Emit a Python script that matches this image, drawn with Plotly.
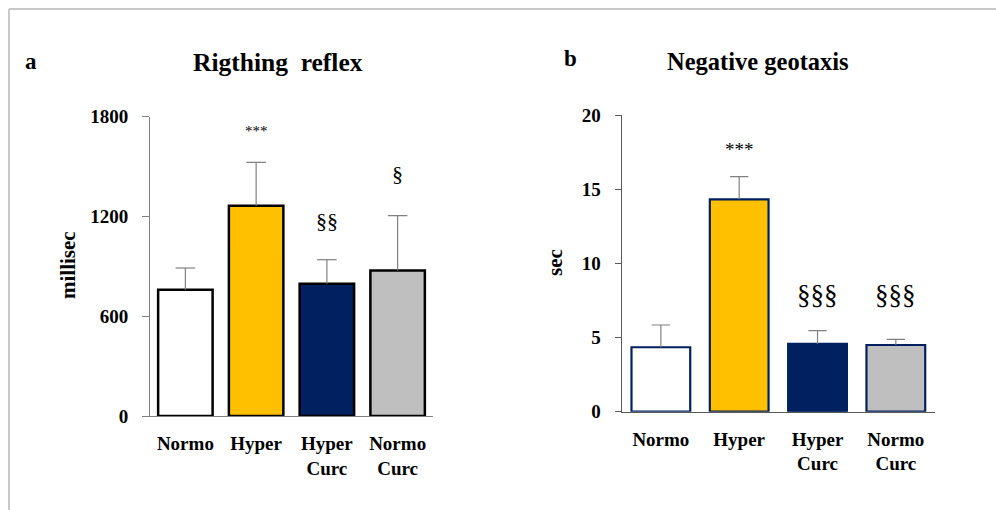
import plotly.graph_objects as go

categories = ["Normo", "Hyper", "Hyper<br>Curc", "Normo<br>Curc"]
fill_colors = ["#FFFFFF", "#FFC000", "#002060", "#BFBFBF"]

# Panel a: Righting reflex (millisec)
reflex_mean = [760, 1265, 795, 875]
reflex_err = [130, 260, 145, 330]
reflex_sig = ["", "***", "§§", "§"]
reflex_sig_y = [None, 1712, 1176, 1458]

# Panel b: Negative geotaxis (sec)
geo_mean = [4.35, 14.33, 4.57, 4.5]
geo_err = [1.5, 1.53, 0.9, 0.38]
geo_sig = ["", "***", "§§§", "§§§"]
geo_sig_y = [None, 17.66, 7.87, 7.87]

FONT = "Liberation Serif"
W, H = 996, 510

def px_x(a, b):
    return [a / W, b / W]

def px_y(bottom, top):
    return [(H - bottom) / H, (H - top) / H]

fig = go.Figure()

# Panel a bars
fig.add_trace(go.Bar(
    x=categories, y=reflex_mean, marker=dict(color=fill_colors, line=dict(color="#000000", width=2.5)),
    width=0.77, xaxis="x", yaxis="y", showlegend=False,
))
fig.add_trace(go.Scatter(
    x=categories, y=[m + e for m, e in zip(reflex_mean, reflex_err)],
    mode="markers", marker=dict(symbol="line-ew", size=14, line=dict(color="#808080", width=1.2), color="#808080"),
    error_y=dict(type="data", symmetric=False, array=[0] * 4, arrayminus=reflex_err, width=0,
                 color="#808080", thickness=1.2),
    xaxis="x", yaxis="y", showlegend=False, hoverinfo="skip",
))

# Panel b bars
fig.add_trace(go.Bar(
    x=categories, y=geo_mean, marker=dict(color=fill_colors, line=dict(color="#002060", width=2.2)),
    width=0.75, xaxis="x2", yaxis="y2", showlegend=False,
))
fig.add_trace(go.Scatter(
    x=categories, y=[m + e for m, e in zip(geo_mean, geo_err)],
    mode="markers", marker=dict(symbol="line-ew", size=13, line=dict(color="#808080", width=1.2), color="#808080"),
    error_y=dict(type="data", symmetric=False, array=[0] * 4, arrayminus=geo_err, width=0,
                 color="#808080", thickness=1.2),
    xaxis="x2", yaxis="y2", showlegend=False, hoverinfo="skip",
))

annotations = []
for c, s, y in zip(categories, reflex_sig, reflex_sig_y):
    if s:
        annotations.append(dict(x=c, y=y, xref="x", yref="y", text=s, showarrow=False,
                                xanchor="center", yanchor="middle",
                                font=dict(family=FONT, size=15 if s == "***" else 22, color="#000000")))
for c, s, y in zip(categories, geo_sig, geo_sig_y):
    if s:
        annotations.append(dict(x=c, y=y, xref="x2", yref="y2", text=s, showarrow=False,
                                xanchor="center", yanchor="middle",
                                font=dict(family=FONT, size=19 if s == "***" else 27, color="#000000")))

def label(x, y, text, size, angle=0):
    return dict(x=x / W, y=1 - y / H, xref="paper", yref="paper", text=text, showarrow=False,
                xanchor="center", yanchor="middle", textangle=angle,
                font=dict(family=FONT, size=size, color="#000000", weight="bold"))

annotations += [
    label(278, 62, "Rigthing  reflex", 25.5),
    label(758, 61, "Negative geotaxis", 24.5),
    label(31, 61, "a", 23),
    label(570, 58, "b", 23),
    label(68, 265, "millisec", 21, -90),
    label(555, 263, "sec", 21, -90),
]

tickfont = dict(family=FONT, size=19, color="#000000", weight="bold")

fig.update_layout(
    template="none",
    width=W, height=H, margin=dict(l=0, r=0, t=0, b=0, pad=0),
    paper_bgcolor="#FFFFFF", plot_bgcolor="rgba(0,0,0,0)",
    annotations=annotations,
    xaxis=dict(domain=px_x(150, 433), range=[-0.5, 3.5], showline=True, linecolor="#808080", linewidth=1,
               ticks="", tickfont=tickfont, showgrid=False, zeroline=False, ticklabelstandoff=10,
               automargin=False, anchor="y"),
    yaxis=dict(domain=px_y(416, 116.7), range=[0, 1800], tickvals=[0, 600, 1200, 1800], showline=True,
               linecolor="#808080", linewidth=1, ticks="outside", ticklen=7, tickcolor="#808080",
               tickfont=tickfont, showgrid=False, zeroline=False, anchor="x", ticklabelstandoff=10,
               automargin=False),
    xaxis2=dict(domain=px_x(621.7, 935), range=[-0.5, 3.5], showline=True, linecolor="#595959", linewidth=1.3,
                ticks="", tickfont=tickfont, showgrid=False, zeroline=False, ticklabelstandoff=10,
                automargin=False, anchor="y2"),
    yaxis2=dict(domain=px_y(411.7, 115.3), range=[0, 20], tickvals=[0, 5, 10, 15, 20], showline=True,
                linecolor="#595959", linewidth=1.3, ticks="outside", ticklen=6, tickcolor="#595959",
                tickfont=tickfont, showgrid=False, zeroline=False, anchor="x2", ticklabelstandoff=10,
                automargin=False),
    shapes=[
        dict(type="line", xref="paper", yref="paper", x0=9 / W, x1=1, y0=1 - 9 / H, y1=1 - 9 / H,
             line=dict(color="#C8C8C8", width=2)),
        dict(type="line", xref="paper", yref="paper", x0=9 / W, x1=9 / W, y0=0, y1=1 - 9 / H,
             line=dict(color="#C8C8C8", width=2)),
    ],
)

fig.write_html("out.html", config={"displayModeBar": False},
               post_script="document.body.style.margin='0';document.body.style.overflow='hidden';")
